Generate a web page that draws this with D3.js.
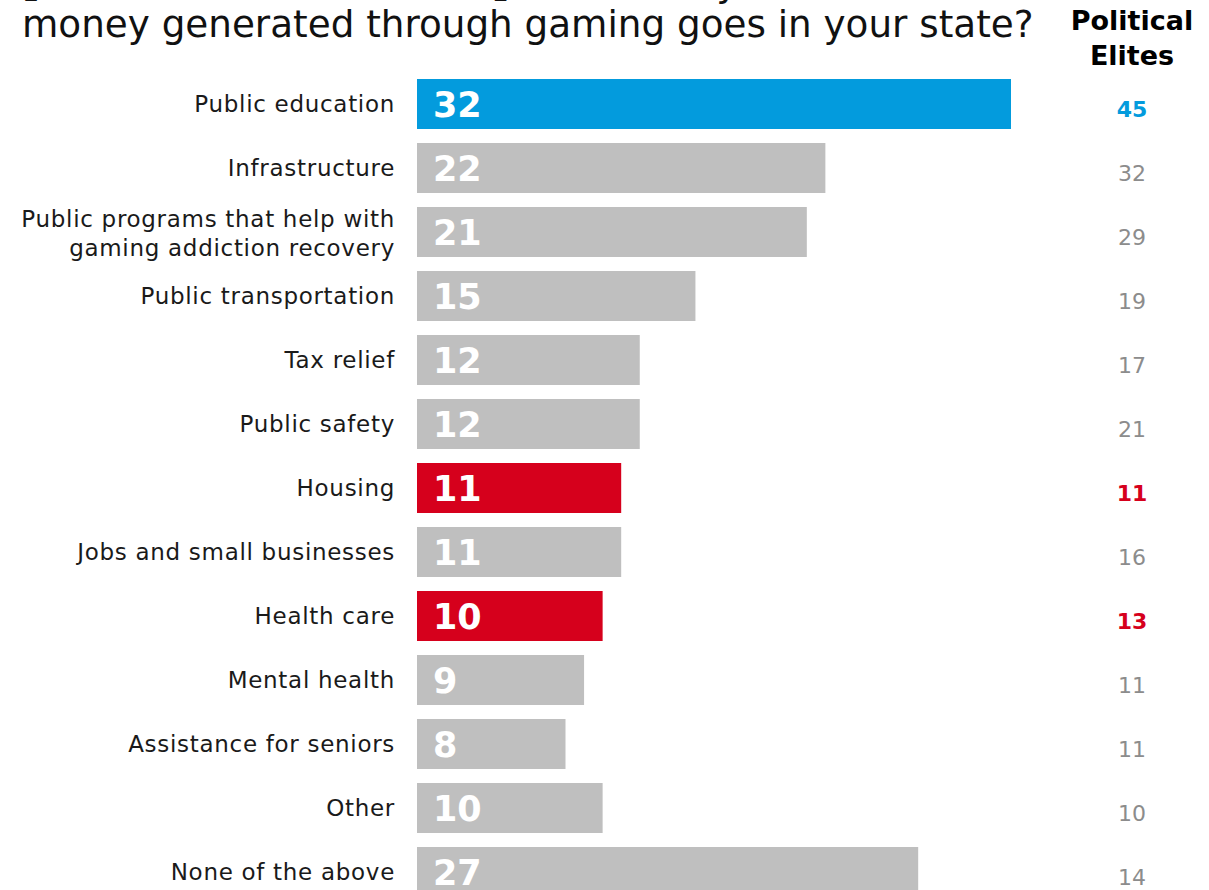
<!DOCTYPE html>
<html>
<head>
<meta charset="utf-8">
<script src="https://cdn.jsdelivr.net/npm/d3@7"></script>
<style>
  html, body { margin: 0; padding: 0; background: #fff; overflow: hidden; }
  svg { display: block; }
  text { font-family: "DejaVu Sans", sans-serif; }
</style>
</head>
<body>
<svg id="chart" width="1209" height="890"></svg>
<script>
// Spending priorities for gaming revenue: public (bars) vs. political elites (right column)
const categories = [
  "Public education",
  "Infrastructure",
  "Public programs that help with\ngaming addiction recovery",
  "Public transportation",
  "Tax relief",
  "Public safety",
  "Housing",
  "Jobs and small businesses",
  "Health care",
  "Mental health",
  "Assistance for seniors",
  "Other",
  "None of the above"
];
const publicValues = [32, 22, 21, 15, 12, 12, 11, 11, 10, 9, 8, 10, 27];
const eliteValues  = [45, 32, 29, 19, 17, 21, 11, 16, 13, 11, 11, 10, 14];
// emphasis group per category: "top" = leading priority, "gap" = notable difference, "none" = plain
const emphasis = ["top", "none", "none", "none", "none", "none", "gap", "none", "gap", "none", "none", "none", "none"];

const titleLines = ["[SELECT UP TO THREE]", " Where do you think the", "money generated through gaming goes in your state?"];
const columnHeader = ["Political", "Elites"];

const barColor = { top: "#039bdd", gap: "#d6001c", none: "#bfbfbf" };
const eliteColor = { top: "#039bdd", gap: "#d6001c", none: "#8c8c8c" };

const rows = categories.map((c, i) => ({
  cat: c, pub: publicValues[i], elite: eliteValues[i], emph: emphasis[i]
}));

const svg = d3.select("#chart");

const x = d3.scaleLinear().domain([0, 32]).range([417, 1011]);
const y = d3.scaleBand()
  .domain(categories)
  .range([72, 72 + 64 * categories.length])
  .paddingInner(0.21875)
  .paddingOuter(0.109375);

// Title (first line sits mostly above the visible area)
const t1 = svg.append("text")
  .attr("x", 22).attr("y", -4)
  .attr("font-size", 38).attr("fill", "#111");
t1.append("tspan").attr("font-weight", "bold").text(titleLines[0]);
t1.append("tspan").text(titleLines[1]);

svg.append("text")
  .attr("x", 22).attr("y", 37)
  .attr("font-size", 37.3)
  .attr("fill", "#111")
  .text(titleLines[2]);

// Column header
svg.append("g").selectAll("text")
  .data(columnHeader)
  .join("text")
  .attr("x", 1132)
  .attr("y", (d, i) => 30 + i * 35)
  .attr("text-anchor", "middle")
  .attr("font-size", 27)
  .attr("font-weight", "bold")
  .attr("fill", "#000")
  .text(d => d);

// Bars
svg.append("g").selectAll("rect")
  .data(rows)
  .join("rect")
  .attr("x", x(0))
  .attr("y", d => y(d.cat))
  .attr("width", d => x(d.pub) - x(0))
  .attr("height", y.bandwidth())
  .attr("fill", d => barColor[d.emph]);

// Values inside bars
svg.append("g").selectAll("text")
  .data(rows)
  .join("text")
  .attr("x", x(0) + 16)
  .attr("y", d => y(d.cat) + y.bandwidth() / 2 + 13)
  .attr("font-size", 35)
  .attr("font-weight", "bold")
  .attr("fill", "#fff")
  .text(d => d.pub);

// Category labels
const labels = svg.append("g").selectAll("text")
  .data(rows)
  .join("text")
  .attr("x", 395)
  .attr("text-anchor", "end")
  .attr("font-size", 23)
  .attr("letter-spacing", 0.7)
  .attr("fill", "#1a1a1a");

labels.each(function(d) {
  const lines = d.cat.split("\n");
  const c = y(d.cat) + y.bandwidth() / 2;
  const first = lines.length === 1 ? c + 8 : c - 5;
  d3.select(this).selectAll("tspan")
    .data(lines)
    .join("tspan")
    .attr("x", 395)
    .attr("y", (l, i) => first + i * 28.5)
    .text(l => l);
});

// Political elites column
svg.append("g").selectAll("text")
  .data(rows)
  .join("text")
  .attr("x", 1132)
  .attr("y", d => y(d.cat) + y.bandwidth() / 2 + 13)
  .attr("text-anchor", "middle")
  .attr("font-size", 22)
  .attr("font-weight", d => d.emph === "none" ? "normal" : "bold")
  .attr("fill", d => eliteColor[d.emph])
  .text(d => d.elite);
</script>
</body>
</html>
